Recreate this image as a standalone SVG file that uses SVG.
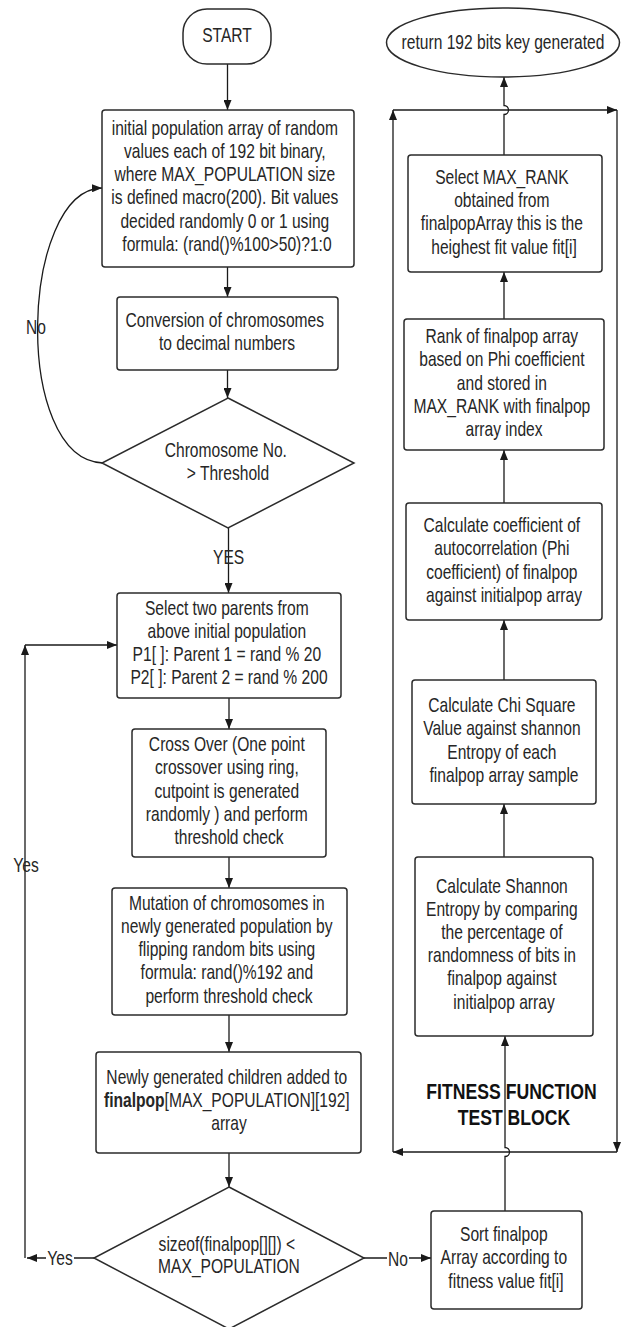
<svg xmlns="http://www.w3.org/2000/svg" width="621" height="1327" viewBox="0 0 621 1327">
<style>
.box{fill:#fff;stroke:#2b2b2b;stroke-width:1.5}
.t{font-family:"Liberation Sans",Arial,sans-serif;font-size:20px;fill:#262626;text-anchor:middle}
.b{font-family:"Liberation Sans",Arial,sans-serif;font-size:21.5px;font-weight:bold;fill:#111;text-anchor:middle}
.c{fill:none;stroke:#1a1a1a;stroke-width:1.3}
.bg{fill:#fff}
</style>
<defs>
<marker id="ah" markerUnits="userSpaceOnUse" markerWidth="10" markerHeight="8" refX="10" refY="4" orient="auto">
<path d="M0,0 L10,4 L0,8 z" fill="#1a1a1a"/>
</marker>
</defs>
<rect width="621" height="1327" fill="#fff"/>

<g id="connectors">
<path class="c" d="M227.5,64 V110" marker-end="url(#ah)"/>
<path class="c" d="M227.5,267 V297" marker-end="url(#ah)"/>
<path class="c" d="M227.5,370 V398" marker-end="url(#ah)"/>
<path class="c" d="M103,463 C12,460 20,190 102,188" marker-end="url(#ah)"/>
<path class="c" d="M228.5,528 V593" marker-end="url(#ah)"/>
<path class="c" d="M229,698 V729" marker-end="url(#ah)"/>
<path class="c" d="M229,857 V888" marker-end="url(#ah)"/>
<path class="c" d="M229,1015 V1052" marker-end="url(#ah)"/>
<path class="c" d="M229,1153 V1187" marker-end="url(#ah)"/>
<path class="c" d="M94,1258 H27" marker-end="url(#ah)"/>
<path class="c" d="M25,1258 V645" marker-end="url(#ah)"/>
<path class="c" d="M25,645 H117" marker-end="url(#ah)"/>
<path class="c" d="M364,1258 H431" marker-end="url(#ah)"/>
<path class="c" d="M505,1211 V1156.5 A4.5,4.5 0 0 0 505,1147.5 V1036" marker-end="url(#ah)"/>
<path class="c" d="M504,857 V804" marker-end="url(#ah)"/>
<path class="c" d="M504,680 V620" marker-end="url(#ah)"/>
<path class="c" d="M504,503 V450" marker-end="url(#ah)"/>
<path class="c" d="M504,319 V272" marker-end="url(#ah)"/>
<path class="c" d="M504,155 V114.5 A4.5,4.5 0 0 0 504,105.5 V77" marker-end="url(#ah)"/>
<path class="c" d="M393,1152 V110" marker-end="url(#ah)"/>
<path class="c" d="M393,110 H617" marker-end="url(#ah)"/>
<path class="c" d="M617,110 V1152" marker-end="url(#ah)"/>
<path class="c" d="M617,1152 H393" marker-end="url(#ah)"/>
<text class="t" transform="scale(0.78,1)" x="46.2" y="334">No</text>
<text class="t" transform="scale(0.78,1)" x="293.1" y="564">YES</text>
<text class="t" transform="scale(0.78,1)" x="33.3" y="872">Yes</text>
<rect class="bg" x="46" y="1249" width="28" height="18"/>
<text class="t" transform="scale(0.78,1)" x="76.9" y="1265">Yes</text>
<rect class="bg" x="387" y="1249" width="22" height="18"/>
<text class="t" transform="scale(0.78,1)" x="510.3" y="1266">No</text>
</g>

<g id="n-start">
<rect class="box" x="183" y="9" width="88" height="55" rx="24" ry="24"/>
<text class="t" transform="scale(0.78,1)" x="291" y="42">START</text>
</g>

<g id="n-init">
<rect class="box" x="102" y="110" width="252" height="157" rx="3"/>
<text class="t" transform="scale(0.78,1)">
<tspan x="291" y="135">initial population array of random</tspan>
<tspan x="291" y="158">values each of 192 bit binary,</tspan>
<tspan x="291" y="181">where MAX_POPULATION size</tspan>
<tspan x="291" y="204">is defined macro(200). Bit values</tspan>
<tspan x="291" y="228">decided randomly 0 or 1 using</tspan>
<tspan x="291" y="251">formula: (rand()%100&gt;50)?1:0</tspan>
</text>
</g>

<g id="n-conv">
<rect class="box" x="117" y="297" width="221" height="73" rx="3"/>
<text class="t" transform="scale(0.78,1)">
<tspan x="291" y="327">Conversion of chromosomes</tspan>
<tspan x="291" y="350">to decimal numbers</tspan>
</text>
</g>

<g id="n-check1">
<polygon class="box" points="228,398 354,463 228,528 102,463"/>
<text class="t" transform="scale(0.78,1)">
<tspan x="292.3" y="457">Chromosome No.</tspan>
<tspan x="292.3" y="480">&gt; Threshold</tspan>
</text>
</g>

<g id="n-select">
<rect class="box" x="117" y="593" width="224" height="105" rx="3"/>
<text class="t" transform="scale(0.78,1)">
<tspan x="293.6" y="615">Select two parents from</tspan>
<tspan x="293.6" y="638">above initial population</tspan>
<tspan x="293.6" y="661">P1[ ]: Parent 1 = rand % 20</tspan>
<tspan x="293.6" y="684">P2[ ]: Parent 2 = rand % 200</tspan>
</text>
</g>

<g id="n-cross">
<rect class="box" x="132" y="729" width="194" height="128" rx="3"/>
<text class="t" transform="scale(0.78,1)">
<tspan x="293.6" y="751">Cross Over (One point</tspan>
<tspan x="293.6" y="774">crossover using ring,</tspan>
<tspan x="293.6" y="798">cutpoint is generated</tspan>
<tspan x="293.6" y="821">randomly ) and perform</tspan>
<tspan x="293.6" y="844">threshold check</tspan>
</text>
</g>

<g id="n-mutation">
<rect class="box" x="112" y="888" width="235" height="127" rx="3"/>
<text class="t" transform="scale(0.78,1)">
<tspan x="293.6" y="910">Mutation of chromosomes in</tspan>
<tspan x="293.6" y="933">newly generated population by</tspan>
<tspan x="293.6" y="956">flipping random bits using</tspan>
<tspan x="293.6" y="979">formula: rand()%192 and</tspan>
<tspan x="293.6" y="1003">perform threshold check</tspan>
</text>
</g>

<g id="n-newly">
<rect class="box" x="96" y="1052" width="265" height="101" rx="3"/>
<text class="t" transform="scale(0.78,1)">
<tspan x="293.6" y="1084">Newly generated children added to</tspan>
<tspan x="293.6" y="1107"><tspan font-weight="bold">finalpop</tspan>[MAX_POPULATION][192]</tspan>
<tspan x="293.6" y="1130">array</tspan>
</text>
</g>

<g id="n-check2">
<polygon class="box" points="229,1187 364,1258 229,1329 94,1258"/>
<text class="t" transform="scale(0.78,1)">
<tspan x="293.6" y="1251">sizeof(finalpop[][]) &lt;</tspan>
<tspan x="293.6" y="1273">MAX_POPULATION</tspan>
</text>
</g>

<g id="n-sort">
<rect class="box" x="431" y="1211" width="151" height="98" rx="3"/>
<text class="t" transform="scale(0.78,1)">
<tspan x="648.7" y="1241">Sort finalpop</tspan>
<tspan x="648.7" y="1264">Array according to</tspan>
<tspan x="648.7" y="1288">fitness value fit[i]</tspan>
</text>
</g>

<g id="n-shannon">
<rect class="box" x="415" y="857" width="178" height="179" rx="3"/>
<text class="t" transform="scale(0.78,1)">
<tspan x="646.2" y="893">Calculate Shannon</tspan>
<tspan x="646.2" y="916">Entropy by comparing</tspan>
<tspan x="646.2" y="939">the percentage of</tspan>
<tspan x="646.2" y="962">randomness of bits in</tspan>
<tspan x="646.2" y="985">finalpop against</tspan>
<tspan x="646.2" y="1009">initialpop array</tspan>
</text>
</g>

<g id="n-chi">
<rect class="box" x="412" y="680" width="184" height="124" rx="3"/>
<text class="t" transform="scale(0.78,1)">
<tspan x="646.2" y="712">Calculate Chi Square</tspan>
<tspan x="646.2" y="735">Value against shannon</tspan>
<tspan x="646.2" y="759">Entropy of each</tspan>
<tspan x="646.2" y="782">finalpop array sample</tspan>
</text>
</g>

<g id="n-phi">
<rect class="box" x="406" y="503" width="196" height="117" rx="3"/>
<text class="t" transform="scale(0.78,1)">
<tspan x="646.2" y="532">Calculate coefficient of</tspan>
<tspan x="646.2" y="555">autocorrelation (Phi</tspan>
<tspan x="646.2" y="579">coefficient) of finalpop</tspan>
<tspan x="646.2" y="602">against initialpop array</tspan>
</text>
</g>

<g id="n-rank">
<rect class="box" x="404" y="319" width="200" height="131" rx="3"/>
<text class="t" transform="scale(0.78,1)">
<tspan x="646.2" y="343">Rank of finalpop array</tspan>
<tspan x="646.2" y="366">based on Phi coefficient</tspan>
<tspan x="646.2" y="390">and stored in</tspan>
<tspan x="646.2" y="413">MAX_RANK with finalpop</tspan>
<tspan x="646.2" y="436">array index</tspan>
</text>
</g>

<g id="n-maxrank">
<rect class="box" x="408" y="155" width="194" height="117" rx="3"/>
<text class="t" transform="scale(0.78,1)">
<tspan x="646.2" y="184">Select MAX_RANK</tspan>
<tspan x="646.2" y="207">obtained from</tspan>
<tspan x="646.2" y="230">finalpopArray this is the</tspan>
<tspan x="646.2" y="254">heighest fit value fit[i]</tspan>
</text>
</g>

<g id="n-end">
<ellipse class="box" cx="503" cy="42.5" rx="116.5" ry="34.5"/>
<text class="t" transform="scale(0.78,1)" x="644.9" y="49">return 192 bits key generated</text>
</g>

<g id="n-fitness-label">
<text class="b" transform="scale(0.82,1)">
<tspan x="626.8" y="1099.5">FITNESS FUNCTION</tspan>
<tspan x="626.8" y="1125.5">TEST BLOCK</tspan>
</text>
</g>
</svg>
